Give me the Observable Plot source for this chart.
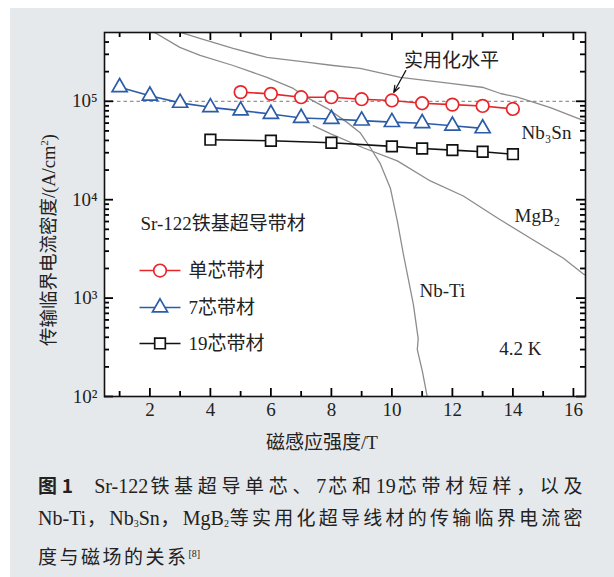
<!DOCTYPE html>
<html><head><meta charset="utf-8">
<script src="https://cdn.jsdelivr.net/npm/d3@7"></script>
<script src="https://cdn.jsdelivr.net/npm/@observablehq/plot@0.6"></script>
<style>
body{margin:0;width:614px;height:577px;position:relative;background:#fff;overflow:hidden;font-family:"Liberation Serif","Noto Sans CJK SC",serif;color:#222;}
#panel{position:absolute;left:10px;top:8px;width:604px;height:569px;background:#e6e9ec;}
#chart{position:absolute;left:0;top:0;}
#xlabel{position:absolute;left:222px;width:200px;text-align:center;top:427px;font-size:19px;}
#ylabel{position:absolute;left:47px;top:240px;transform:translate(-50%,-50%) rotate(-90deg);white-space:nowrap;font-size:18.5px;}
#caption{position:absolute;left:38px;top:470px;width:547px;font-size:19px;line-height:30.5px;letter-spacing:2.5px;}
.line{text-align:justify;text-align-last:justify;white-space:nowrap;}
.lat{letter-spacing:0;font-size:20px;}
.sub{font-size:10px;vertical-align:-2px;letter-spacing:0;}
</style></head>
<body>
<div id="panel"></div>
<div id="chart"></div>
<div id="xlabel">磁感应强度/T</div>
<div id="ylabel">传输临界电流密度/(A/cm<sup style="font-size:11px">2</sup>)</div>
<div id="caption">
<div class="line"><b style="font-family:'Noto Sans CJK SC';font-weight:700">图1</b>&nbsp;&nbsp;<span class="lat">Sr-122</span>铁基超导单芯、<span class="lat">7</span>芯和<span class="lat">19</span>芯带材短样，以及</div>
<div class="line"><span class="lat">Nb-Ti</span>，<span class="lat">Nb<span class="sub">3</span>Sn</span>，<span class="lat">MgB<span class="sub">2</span></span>等实用化超导线材的传输临界电流密</div>
<div>度与磁场的关系<sup style="font-size:10px;letter-spacing:0">[8]</sup></div>
</div>
<script>
// ---- data ----
const xSingle = [5,6,7,8,9,10,11,12,13,14];
const jcSingle = [1.24e5,1.19e5,1.10e5,1.10e5,1.05e5,1.02e5,0.955e5,0.925e5,0.897e5,0.836e5];
const x7 = [1,2,3,4,5,6,7,8,9,10,11,12,13];
const jc7 = [1.39e5,1.14e5,0.963e5,0.868e5,0.804e5,0.743e5,0.677e5,0.661e5,0.636e5,0.614e5,0.598e5,0.565e5,0.530e5];
const x19 = [4,6,8,10,11,12,13,14];
const jc19 = [4.07e4,3.97e4,3.79e4,3.48e4,3.31e4,3.19e4,3.07e4,2.90e4];

const xNb3Sn = [2.85,3.65,4.75,5.87,6.97,8.06,8.95,10.28,11.93,13.03,13.59,14.15,15.24,16.34,16.5];
const jcNb3Sn = [5.2e5,4.37e5,3.45e5,2.79e5,2.54e5,2.31e5,2.16e5,1.75e5,1.52e5,1.38e5,1.20e5,1.10e5,0.863e5,0.636e5,0.60e5];
const xNbTi = [2.02,2.99,3.66,4.75,5.87,6.74,7.20,7.87,8.53,8.95,9.29,9.62,9.95,10.18,10.38,10.71,10.87,10.84,11.01,11.18,11.22];
const jcNbTi = [5.3e5,3.53e5,2.93e5,2.31e5,1.75e5,1.35e5,1.09e5,8.43e4,6.07e4,4.80e4,3.37e4,2.31e4,1.31e4,6.07e3,2.79e3,863,388,300,179,95,88];
const xMgB2 = [7.40,7.96,9.05,10.18,11.27,12.36,13.49,14.58,15.67,16.34,16.5];
const jcMgB2 = [5.65e4,4.69e4,3.37e4,2.48e4,1.55e4,1.09e4,6.51e3,4.06e3,2.54e3,1.75e3,1.65e3];

const xMajor = [2,4,6,8,10,12,14,16];
const xMinor = [1,3,5,7,9,11,13,15];
const yMajor = [1e2,1e3,1e4,1e5];
const yMinor = [2e2,3e2,4e2,5e2,6e2,7e2,8e2,9e2,2e3,3e3,4e3,5e3,6e3,7e3,8e3,9e3,2e4,3e4,4e4,5e4,6e4,7e4,8e4,9e4,2e5,3e5,4e5];
const yTickLabels = ["10²","10³","10⁴","10⁵"];

const seriesNames = ["单芯带材","7芯带材","19芯带材"];
const legendY = [1906, 802, 346];
const curveNames = ["实用化水平","Nb₃Sn","MgB₂","Nb-Ti","4.2 K"];
const curveLabelX = [11.97,15.11,14.81,11.67,14.25];
const curveLabelY = [2.59e5,4.82e4,6.9e3,1.19e3,308];
const titleText = "Sr-122铁基超导带材";

// ---- build ----
const red = "#e8262a", blue = "#2c5ca8", black = "#111";
const zip = (xs, ys) => xs.map((x, i) => ({x, y: ys[i]}));
const single = zip(xSingle, jcSingle), seven = zip(x7, jc7), nineteen = zip(x19, jc19);
const nbsn = zip(xNb3Sn, jcNb3Sn), nbti = zip(xNbTi, jcNbTi), mgb2 = zip(xMgB2, jcMgB2);
const styles = [
  {color: red, symbol: "circle", r: 6.3},
  {color: blue, symbol: "triangle", r: 5.6},
  {color: black, symbol: "square", r: 6}
];
const legend = seriesNames.map((name, i) => ({name, y: legendY[i], ...styles[i]}));
const labels = curveNames.map((t, i) => ({t, x: curveLabelX[i], y: curveLabelY[i]}));
const gray = "#8c8c8c";

// scale geometry
const W = 614, H = 470, ML = 104, MR = 29, MT = 32, MB = 74;
const xDom = [0.5, 16.4], yDom = [100, 5e5];
const FW = W - ML - MR, FH = H - MT - MB;
const xPerPx = (xDom[1] - xDom[0]) / FW;
const decPerPx = Math.log10(yDom[1] / yDom[0]) / FH;
const yLen = px => Math.pow(10, px * decPerPx);

function seriesMarks(data, st) {
  return [
    Plot.line(data, {x: "x", y: "y", stroke: st.color, strokeWidth: 1.6}),
    Plot.dot(data, {x: "x", y: "y", symbol: st.symbol, r: st.r, stroke: st.color, fill: "white", strokeWidth: 1.7})
  ];
}
const legendMarks = legend.flatMap(d => [
  Plot.link([d], {x1: 1.657, x2: 3.012, y1: "y", y2: "y", stroke: d.color, strokeWidth: 1.6}),
  Plot.dot([d], {x: 2.335, y: "y", symbol: d.symbol, r: d.r, stroke: d.color, fill: "white", strokeWidth: 1.7}),
  Plot.text([d], {x: 3.277, y: "y", text: "name", textAnchor: "start", fill: "#222", fontSize: 19})
]);

// inward ticks: short rules with data-space ends derived from the scale domain
const tkStyle = {stroke: "#000", strokeWidth: 1.8, strokeOpacity: 1};
const xTicks = (vals, len) => [
  Plot.ruleX(vals.map(v => ({v, a: yDom[0], b: yDom[0] * yLen(len)})), {x: "v", y1: "a", y2: "b", ...tkStyle}),
  Plot.ruleX(vals.map(v => ({v, a: yDom[1], b: yDom[1] / yLen(len)})), {x: "v", y1: "a", y2: "b", ...tkStyle})
];
const yTicks = (vals, len) => [
  Plot.ruleY(vals.map(v => ({v, a: xDom[0], b: xDom[0] + len * xPerPx})), {y: "v", x1: "a", x2: "b", ...tkStyle}),
  Plot.ruleY(vals.map(v => ({v, a: xDom[1], b: xDom[1] - len * xPerPx})), {y: "v", x1: "a", x2: "b", ...tkStyle})
];

const chart = Plot.plot({
  width: W, height: H,
  marginLeft: ML, marginRight: MR, marginTop: MT, marginBottom: MB,
  style: {fontFamily: "Liberation Serif, Noto Sans CJK SC, serif", fontSize: "19px", background: "transparent", color: "#111"},
  x: {domain: xDom},
  y: {type: "log", domain: yDom},
  marks: [
    Plot.frame({fill: "white", stroke: null}),
    Plot.ruleY([1e5], {stroke: "#777", strokeDasharray: "3.5,3", strokeWidth: 1}),
    Plot.line(nbsn, {x: "x", y: "y", stroke: gray, strokeWidth: 1.3, clip: true}),
    Plot.line(nbti, {x: "x", y: "y", stroke: gray, strokeWidth: 1.3, clip: true}),
    Plot.line(mgb2, {x: "x", y: "y", stroke: gray, strokeWidth: 1.3, clip: true}),
    ...seriesMarks(nineteen, styles[2]),
    ...seriesMarks(seven, styles[1]),
    ...seriesMarks(single, styles[0]),
    Plot.arrow([{x1: 10.46, y1: 2.05e5, x2: 10.06, y2: 1.23e5}], {x1: "x1", y1: "y1", x2: "x2", y2: "y2", stroke: "#111", strokeWidth: 1.2, headLength: 9, headAngle: 40}),
    Plot.text(labels, {x: "x", y: "y", text: "t", fill: "#222", fontSize: 19}),
    Plot.text([titleText], {x: 1.69, y: 5730, text: d => d, textAnchor: "start", fill: "#222", fontSize: 19}),
    ...legendMarks,
    ...xTicks(xMajor, 8), ...xTicks(xMinor, 5),
    ...yTicks(yMajor, 9), ...yTicks(yMinor, 5),
    Plot.axisX({ticks: xMajor, tickSize: 0, tickPadding: 6, label: null, fill: "#222"}),
    Plot.axisY({ticks: yMajor, tickSize: 0, tickPadding: 7, label: null, fill: "#222", tickFormat: d => yTickLabels[yMajor.indexOf(d)]}),
    Plot.frame({stroke: "#111", strokeWidth: 1.6})
  ]
});
document.getElementById("chart").append(chart);
</script>
</body></html>
